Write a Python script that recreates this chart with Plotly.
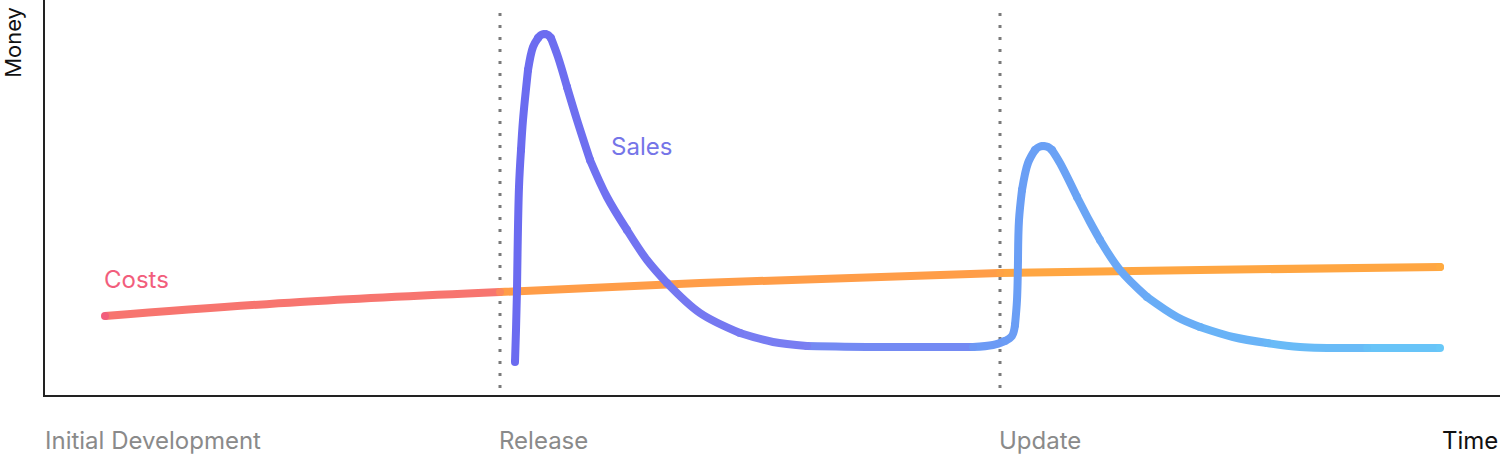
import plotly.graph_objects as go

# ---- data (time units on x, money units on y) ----
cost_t = [60, 255, 455, 655, 955, 1155, 1395]
cost_v = [79, 93, 103, 112, 122, 125, 128]

sales_t = [470, 471, 472, 474, 476, 478, 483, 488, 493, 496, 500, 503, 506, 513, 522, 532,
           545, 562, 582, 602, 622, 655, 695, 728, 762, 828, 928, 948, 960, 967,
           970, 972, 973, 974, 977, 983, 990, 994, 998, 1003, 1007, 1015, 1032, 1045, 1055,
           1075, 1102, 1132, 1155, 1188, 1222, 1255, 1322, 1395]
sales_v = [33, 65, 105, 208, 245, 275, 325, 348, 357, 360, 361, 360, 357, 338, 308, 275,
           235, 198, 165, 135, 112, 82, 62, 53, 49, 48, 48, 50, 54, 59,
           70, 95, 135, 175, 205, 232, 245, 248, 249, 248, 245, 232, 198, 173, 155,
           125, 98, 78, 68, 58, 52, 48, 47, 47]

release_t = 455
update_t = 955

labels_x = ["Initial Development", "Release", "Update"]
labels_px = [-0.0014, 0.3107, 0.6546]

cost_stops = [(60, (242, 94, 124)), (355, (250, 128, 104)), (655, (255, 156, 72)), (1395, (255, 170, 64))]
sales_stops = [(470, (107, 107, 240)), (760, (122, 127, 242)), (975, (106, 158, 245)), (1395, (104, 200, 248))]


def color_at(x, stops):
    if x <= stops[0][0]:
        c = stops[0][1]
    elif x >= stops[-1][0]:
        c = stops[-1][1]
    else:
        for (x0, c0), (x1, c1) in zip(stops[:-1], stops[1:]):
            if x0 <= x <= x1:
                f = (x - x0) / (x1 - x0)
                c = tuple(c0[k] + (c1[k] - c0[k]) * f for k in range(3))
                break
    return "rgb(%d,%d,%d)" % tuple(round(v) for v in c)


fig = go.Figure()


def add_gradient_line(xs, ys, stops, width=8, step=2):
    n = len(xs)
    i = 0
    while i < n - 1:
        j = min(i + step, n - 1)
        seg_x = xs[i:j + 1]
        seg_y = ys[i:j + 1]
        fig.add_trace(go.Scatter(
            x=seg_x, y=seg_y, mode="lines",
            line=dict(color=color_at(sum(seg_x) / len(seg_x), stops), width=width,
                      shape="spline", smoothing=1.0),
            hoverinfo="skip", showlegend=False))
        i = j
    # round caps / joins at chunk boundaries
    ends = list(range(0, n, step)) + [n - 1]
    fig.add_trace(go.Scatter(
        x=[xs[k] for k in ends], y=[ys[k] for k in ends], mode="markers",
        marker=dict(size=width, color=[color_at(xs[k], stops) for k in ends], line=dict(width=0)),
        hoverinfo="skip", showlegend=False))


# dotted markers for release / update
for t in [release_t, update_t]:
    fig.add_shape(type="line", x0=t, x1=t, y0=7, y1=386, xref="x", yref="y",
                  line=dict(color="#7a7a7a", width=3, dash="3px,9px"), layer="below")

add_gradient_line(cost_t, cost_v, cost_stops)
add_gradient_line(sales_t, sales_v, sales_stops)

font = "Inter, 'Open Sans', sans-serif"
ann = []
for lab, p in zip(labels_x, labels_px):
    ann.append(dict(x=p, y=-0.114, xref="paper", yref="paper", text=lab, showarrow=False,
                    xanchor="left", yanchor="middle",
                    font=dict(family=font, size=24, color="#8a8a8a")))
ann.append(dict(x=1.0, y=-0.114, xref="paper", yref="paper", text="Time", showarrow=False,
                xanchor="right", yanchor="middle", font=dict(family=font, size=24, color="#111")))
ann.append(dict(x=-0.022, y=0.894, xref="paper", yref="paper", text="Money", showarrow=False,
                textangle=-90, xanchor="center", yanchor="middle",
                font=dict(family=font, size=22, color="#111")))
ann.append(dict(x=57, y=116, text="Costs", showarrow=False, xanchor="left", yanchor="middle",
                font=dict(family=font, size=24, color="rgb(242,94,124)")))
ann.append(dict(x=564, y=249, text="Sales", showarrow=False, xanchor="left", yanchor="middle",
                font=dict(family=font, size=24, color="rgb(117,117,232)")))

fig.update_layout(
    width=1500, height=454,
    margin=dict(l=45, r=0, t=0, b=59, autoexpand=False),
    plot_bgcolor="white", paper_bgcolor="white",
    showlegend=False,
    annotations=ann,
    xaxis=dict(range=[0, 1455], showgrid=False, zeroline=False, showticklabels=False,
               ticks="", showline=True, linecolor="#222", linewidth=2),
    yaxis=dict(range=[0, 395], showgrid=False, zeroline=False, showticklabels=False,
               ticks="", showline=True, linecolor="#222", linewidth=2),
)

fig.write_html("out.html", config={"displayModeBar": False},
               post_script="document.body.style.margin='0';document.body.style.overflow='hidden';")
